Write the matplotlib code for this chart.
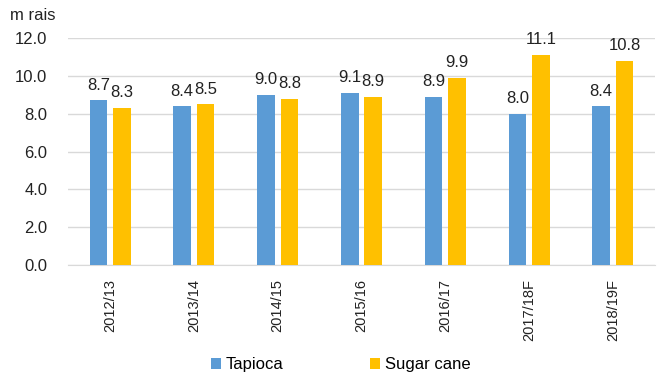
import numpy as np
import matplotlib
matplotlib.use('Agg')
from matplotlib import pyplot as plt

plt.rcParams['font.family'] = ['Liberation Sans', 'DejaVu Sans']

# data
seasons = ['2012/13', '2013/14', '2014/15', '2015/16', '2016/17', '2017/18F', '2018/19F']
tapioca = [8.7, 8.4, 9.0, 9.1, 8.9, 8.0, 8.4]
sugar_cane = [8.3, 8.5, 8.8, 8.9, 9.9, 11.1, 10.8]
y_ticks = [0.0, 2.0, 4.0, 6.0, 8.0, 10.0, 12.0]

fig = plt.figure(figsize=(6.62, 3.76), dpi=100)
ax = fig.add_axes([0.103, 0.295, 0.886, 0.604])

x = np.arange(len(seasons))
w = 0.21
gap = 0.035
b1 = ax.bar(x - w/2 - gap, tapioca, w, color='#5B9BD5', label='Tapioca', zorder=3)
b2 = ax.bar(x + w/2 + gap, sugar_cane, w, color='#FFC000', label='Sugar cane', zorder=3)

for bars, vals in ((b1, tapioca), (b2, sugar_cane)):
    for r, v in zip(bars, vals):
        ax.text(r.get_x() + r.get_width()/2, v + 0.4, '%.1f' % v,
                ha='center', va='bottom', fontsize=12, color='#222222')

ax.set_xlim(-0.5, len(seasons) - 0.5)
ax.set_ylim(0, 12)
ax.set_yticks(y_ticks)
ax.set_yticklabels(['%.1f' % t for t in y_ticks], fontsize=12, color='#222222')
ax.set_xticks(x)
ax.set_xticklabels(seasons, rotation=90, fontsize=10.5, color='#222222')
ax.tick_params(axis='x', length=0, pad=10)
ax.tick_params(axis='y', length=0, pad=15)

ax.yaxis.grid(True, color='#D9D9D9', linewidth=1, zorder=0)
for s in ['top', 'right', 'left']:
    ax.spines[s].set_visible(False)
ax.spines['bottom'].set_color('#D9D9D9')

fig.text(0.015, 0.96, 'm rais', fontsize=12, color='#222222', va='center')

fig.legend(loc='center', bbox_to_anchor=(0.515, 0.03), ncol=2, frameon=False,
           fontsize=12, handlelength=0.6, handleheight=0.6, handletextpad=0.3,
           columnspacing=5.2)

fig.savefig('out.png', dpi=100)
